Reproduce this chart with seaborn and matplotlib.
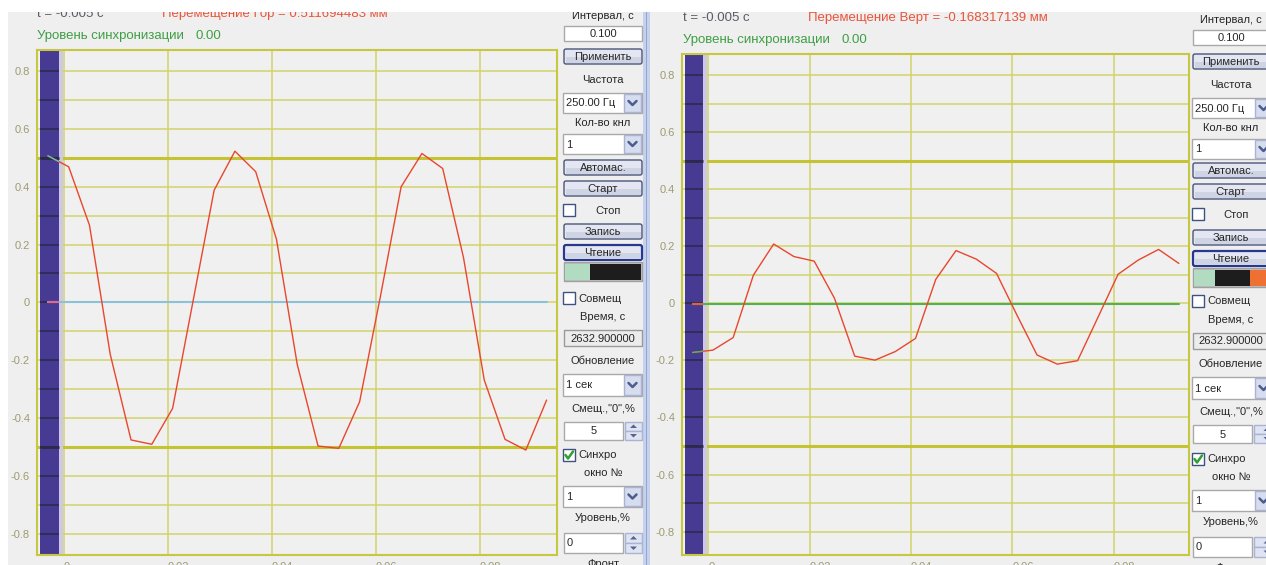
import matplotlib
matplotlib.use("Agg")
import matplotlib.pyplot as plt
from matplotlib.patches import Rectangle, FancyBboxPatch, Polygon
import seaborn as sns

sns.set_theme(style="white")
plt.rcParams['font.family'] = ['Liberation Sans', 'DejaVu Sans']

# ---- recorded samples (250 Hz), time in seconds, displacement in mm ----
time_s = [-0.0031, 0.0009, 0.0049, 0.0089, 0.0129, 0.0169, 0.0209, 0.0249,
          0.0289, 0.0329, 0.0369, 0.0409, 0.0449, 0.0489, 0.0529, 0.0569,
          0.0609, 0.0649, 0.0689, 0.0729, 0.0769, 0.0809, 0.0849, 0.0889,
          0.0929]
horiz_mm = [0.507, 0.469, 0.267, -0.180, -0.476, -0.491, -0.367, 0.010,
            0.388, 0.523, 0.452, 0.218, -0.215, -0.497, -0.505, -0.344,
            0.020, 0.400, 0.515, 0.463, 0.155, -0.269, -0.474, -0.511,
            -0.338]
vert_mm = [-0.172, -0.164, -0.120, 0.099, 0.208, 0.164, 0.148, 0.018,
           -0.185, -0.199, -0.169, -0.123, 0.084, 0.185, 0.155, 0.105,
           -0.040, -0.181, -0.213, -0.201, -0.050, 0.102, 0.152, 0.189,
           0.140]
sync_level = [0.0, -0.004]
limit_levels = [-0.5, 0.5]

x_ticks = [0, 0.02, 0.04, 0.06, 0.08]
x_labels = ['0', '0.02', '0.04', '0.06', '0.08']
y_major = [-0.8, -0.6, -0.4, -0.2, 0, 0.2, 0.4, 0.6, 0.8]
y_labels = ['-0.8', '-0.6', '-0.4', '-0.2', '0', '0.2', '0.4', '0.6', '0.8']
y_minor = [-0.7, -0.5, -0.3, -0.1, 0.1, 0.3, 0.5, 0.7]
grid_levels = y_major + y_minor

header_t = ['t = -0.005 с', 't = -0.005 с']
header_move = ['Перемещение Гор = 0.511694483 мм',
               'Перемещение Верт = -0.168317139 мм']
sync_text = 'Уровень синхронизации'
sync_value = '0.00'

X_RANGE = (-0.0052, 0.0949)
PRE_TRIGGER = (-0.0047, -0.0010)

GRID = '#d2d26c'
GRID_DARK = '#c4c432'
SPINE = '#c8c840'
TICK_TXT = '#9c9c70'
BG = '#efefef'

W, H = 1266, 565
fig = plt.figure(figsize=(W / 100, H / 100), dpi=100, facecolor=BG)

ui = fig.add_axes([0, 0, 1, 1])
ui.set_xlim(0, W)
ui.set_ylim(H, 0)
ui.axis('off')


def rect_px(x0, y0, x1, y1):
    return [x0 / W, 1 - y1 / H, (x1 - x0) / W, (y1 - y0) / H]


# ---------------- UI widgets ----------------
def label(x, y, s, ha='center', size=8, color='#262626'):
    ui.text(x, y, s, ha=ha, va='center', fontsize=size, color=color, zorder=5)


def textbox(x0, y0, x1, y1, s, tx=None, ha='center', fc='white', ec='#a9a9a9'):
    ui.add_patch(Rectangle((x0, y0), x1 - x0, y1 - y0, fc=fc, ec=ec, lw=1, zorder=3))
    if tx is None:
        tx = (x0 + x1) / 2 if ha == 'center' else x0 + 3
    label(tx, (y0 + y1) / 2 + 0.5, s, ha=ha)


def button(x0, y0, x1, y1, s, tx=None, focused=False):
    ec = '#27388e' if focused else '#4b5478'
    lw = 1.6 if focused else 1.0
    ui.add_patch(FancyBboxPatch((x0, y0), x1 - x0, y1 - y0,
                                boxstyle='round,pad=0,rounding_size=2',
                                fc='#e4e7f1', ec=ec, lw=lw, zorder=3))
    ui.add_patch(Rectangle((x0 + 1.5, y0 + (y1 - y0) * 0.55), x1 - x0 - 3,
                           (y1 - y0) * 0.45 - 1.5, fc='#cfd4e4', ec='none', zorder=3.1))
    if tx is None:
        tx = (x0 + x1) / 2
    label(tx, (y0 + y1) / 2 + 0.5, s)


def arrow_box(x0, y0, x1, y1):
    ui.add_patch(Rectangle((x0, y0), x1 - x0, y1 - y0, fc='#d6ddef', ec='#aab3d3', lw=1, zorder=3.2))
    cx, cy = (x0 + x1) / 2, (y0 + y1) / 2
    ui.plot([cx - 4, cx, cx + 4], [cy - 2, cy + 2, cy - 2], color='#4d5d8e', lw=1.8, zorder=3.3)


def dropdown(x0, y0, x1, y1, s, ax0):
    textbox(x0, y0, x1, y1, s, ha='left')
    arrow_box(ax0, y0 + 1, min(ax0 + 17, x1 - 1), y1 - 1)


def spin(x0, y0, x1, y1, s, sx0, sx1, ha='center'):
    textbox(x0, y0, x1, y1, s, ha=ha)
    ym = (y0 + y1) / 2
    for (a, b, up) in ((y0, ym, True), (ym, y1, False)):
        ui.add_patch(Rectangle((sx0, a), sx1 - sx0, b - a, fc='#dfe4f2', ec='#aab3d3', lw=1, zorder=3.2))
        cx, cy = (sx0 + sx1) / 2, (a + b) / 2
        tri = [(cx - 3.5, cy + 1.5), (cx + 3.5, cy + 1.5), (cx, cy - 2)] if up else \
              [(cx - 3.5, cy - 1.5), (cx + 3.5, cy - 1.5), (cx, cy + 2)]
        ui.add_patch(Polygon(tri, closed=True, fc='#55638f', ec='none', zorder=3.3))


def checkbox(x0, y0, checked=False, text=None, tx=None, ha='left'):
    ui.add_patch(Rectangle((x0, y0), 12, 12, fc='white', ec='#3d5280', lw=1, zorder=3))
    if checked:
        ui.plot([x0 + 2.5, x0 + 5, x0 + 10], [y0 + 6, y0 + 9.5, y0 + 2.5],
                color='#2ea12e', lw=1.8, zorder=3.3)
    if text:
        label(tx if tx is not None else x0 + 15, y0 + 6.5, text, ha=ha)


def color_strip(x0, y0, x1, y1, parts):
    ui.add_patch(Rectangle((x0, y0), x1 - x0, y1 - y0, fc='#bfbfbf', ec='#a0a0a0', lw=1, zorder=3))
    for (a, b, c) in parts:
        ui.add_patch(Rectangle((a, y0 + 1.5), b - a, y1 - y0 - 3, fc=c, ec='none', zorder=3.1))


def control_column(x0, x1, cx, ys, strip, arrow_x, spin_x):
    label(cx, ys['interval'], 'Интервал, с')
    textbox(x0, ys['interval'] + 10, x1, ys['interval'] + 25, '0.100', tx=cx)
    button(x0, ys['apply'], x1, ys['apply'] + 15, 'Применить', tx=cx)
    label(cx, ys['freq'], 'Частота')
    dropdown(x0 - 1, ys['freq'] + 13, x1, ys['freq'] + 33, '250.00 Гц', arrow_x)
    label(cx, ys['chan'], 'Кол-во кнл')
    dropdown(x0 - 1, ys['chan'] + 11, x1, ys['chan'] + 31, '1', arrow_x)
    button(x0, ys['auto'], x1, ys['auto'] + 15, 'Автомас.', tx=cx)
    button(x0, ys['auto'] + 21, x1, ys['auto'] + 36, 'Старт', tx=cx)
    checkbox(x0 - 1, ys['stop'], text='Стоп', tx=cx + 5, ha='center')
    button(x0, ys['rec'], x1, ys['rec'] + 15, 'Запись', tx=cx)
    button(x0, ys['rec'] + 21, x1, ys['rec'] + 36, 'Чтение', tx=cx, focused=True)
    color_strip(x0, ys['rec'] + 38, x1, ys['rec'] + 57, strip)
    checkbox(x0 - 1, ys['comb'], text='Совмещ')
    label(cx, ys['comb'] + 25, 'Время, с')
    textbox(x0, ys['comb'] + 38, x1, ys['comb'] + 54, '2632.900000', tx=cx,
            fc='#ececec', ec='#9a9a9a')
    label(cx, ys['comb'] + 69, 'Обновление')
    dropdown(x0 - 1, ys['comb'] + 82, x1, ys['comb'] + 104, '1 сек', arrow_x)
    label(cx, ys['shift'], 'Смещ.,"0",%')
    spin(x0, ys['shift'] + 13, spin_x - 2, ys['shift'] + 31, '5', spin_x, x1)
    checkbox(x0 - 1, ys['sync'], checked=True, text='Синхро')
    label(cx, ys['sync'] + 24, 'окно №')
    dropdown(x0 - 1, ys['sync'] + 37, x1, ys['sync'] + 58, '1', arrow_x)
    label(cx, ys['sync'] + 69, 'Уровень,%')
    spin(x0, ys['sync'] + 84, spin_x - 2, ys['sync'] + 104, '0', spin_x, x1, ha='left')
    label(cx, ys['sync'] + 115, 'Фронт')


control_column(564, 642, 603,
               dict(interval=16, apply=49, freq=80, chan=123, auto=160, stop=204,
                    rec=224, comb=292, shift=409, sync=449),
               [(565, 590, '#b1dcc2'), (590, 641, '#1d1d1d')], 624, 625)
control_column(1193, 1280, 1231,
               dict(interval=20, apply=54, freq=85, chan=128, auto=163, stop=208,
                    rec=230, comb=295, shift=412, sync=453),
               [(1194, 1215, '#b1dcc2'), (1215, 1250, '#1d1d1d'), (1250, 1280, '#ee7032')],
               1255, 1254)

# window separator
ui.add_patch(Rectangle((643, 0), 7, H, fc='#c6d1ec', ec='none', zorder=2))
ui.add_patch(Rectangle((645.5, 0), 1.2, H, fc='#93a3d3', ec='none', zorder=2.1))

# headers
for x0, yb, k in ((37, 17, 0), (683, 21, 1)):
    ui.text(x0, yb, header_t[k], fontsize=9.5, color='#5b5b66', va='baseline', zorder=5)
    ui.text(x0 + 125, yb, header_move[k], fontsize=9.5, color='#e9553b', va='baseline', zorder=5)
for x0, yb in ((37, 39), (683, 43)):
    ui.text(x0, yb, sync_text, fontsize=9.5, color='#3e9f44', va='baseline', zorder=5)
    ui.text(x0 + 158, yb, sync_value, fontsize=9.5, color='#3e9f44', va='baseline', zorder=5)

# white frame outside the window
ui.add_patch(Rectangle((0, 0), W, 12, fc='white', ec='none', zorder=10))
ui.add_patch(Rectangle((0, 0), 8, H, fc='white', ec='none', zorder=10))


# ---------------- scope panels ----------------
def draw_scope(ax, values, level, ylim, sig_c, sig_pre_c, base_c, base_pre_c):
    ax.set_facecolor('#f0f0f0')
    ax.set_xlim(*X_RANGE)
    ax.set_ylim(*ylim)
    ax.hlines(grid_levels, *X_RANGE, color=GRID, lw=1.1, zorder=0.5)
    ax.vlines(x_ticks, *ylim, color=GRID, lw=1.1, zorder=0.5)
    ax.hlines(limit_levels, *X_RANGE, color=GRID_DARK, lw=2.2, zorder=0.6)
    ax.axvspan(*PRE_TRIGGER, color='#473a93', lw=0, zorder=1.2)
    ax.axvspan(PRE_TRIGGER[1], -0.0002, color='#cdc8e6', lw=0, zorder=1.2)
    ax.hlines(grid_levels, *PRE_TRIGGER, color='#2b2a4a', lw=1.1, zorder=1.3)
    ax.hlines(limit_levels, *PRE_TRIGGER, color='#2b2a4a', lw=2.0, zorder=1.3)

    clip = Rectangle((X_RANGE[0], -2), PRE_TRIGGER[1] - X_RANGE[0], 4,
                     transform=ax.transData)
    ends = [time_s[0], time_s[-1]]
    sns.lineplot(x=ends, y=[level, level], ax=ax, color=base_c, lw=1.5, zorder=3)
    sns.lineplot(x=ends, y=[level, level], ax=ax, color=base_pre_c, lw=1.5, zorder=3.1)
    ax.lines[-1].set_clip_path(clip)
    sns.lineplot(x=time_s, y=values, ax=ax, color=sig_c, lw=1.0, zorder=4)
    sns.lineplot(x=time_s, y=values, ax=ax, color=sig_pre_c, lw=1.0, zorder=4.1)
    ax.lines[-1].set_clip_path(clip)

    ax.set_xticks(x_ticks)
    ax.set_xticklabels(x_labels)
    for t in ax.get_xticklabels():
        t.set_ha('left')
    ax.set_yticks(y_major)
    ax.set_yticklabels(y_labels)
    ax.tick_params(axis='both', direction='out', length=4, width=1, color=SPINE,
                   labelsize=8, labelcolor=TICK_TXT, pad=1)
    ax.set_xlabel('')
    ax.set_ylabel('')
    for s in ax.spines.values():
        s.set_color(SPINE)
        s.set_linewidth(1.5)


axL = fig.add_axes(rect_px(37, 50, 557, 555))
axR = fig.add_axes(rect_px(682, 54, 1189, 555))
draw_scope(axL, horiz_mm, sync_level[0], (-0.874, 0.873),
           '#e8472d', '#5fc7a6', '#8cc2d8', '#e0688a')
draw_scope(axR, vert_mm, sync_level[1], (-0.882, 0.874),
           '#e8472d', '#55b655', '#52b152', '#e4603a')

fig.savefig('out.png', dpi=100, facecolor=BG)
